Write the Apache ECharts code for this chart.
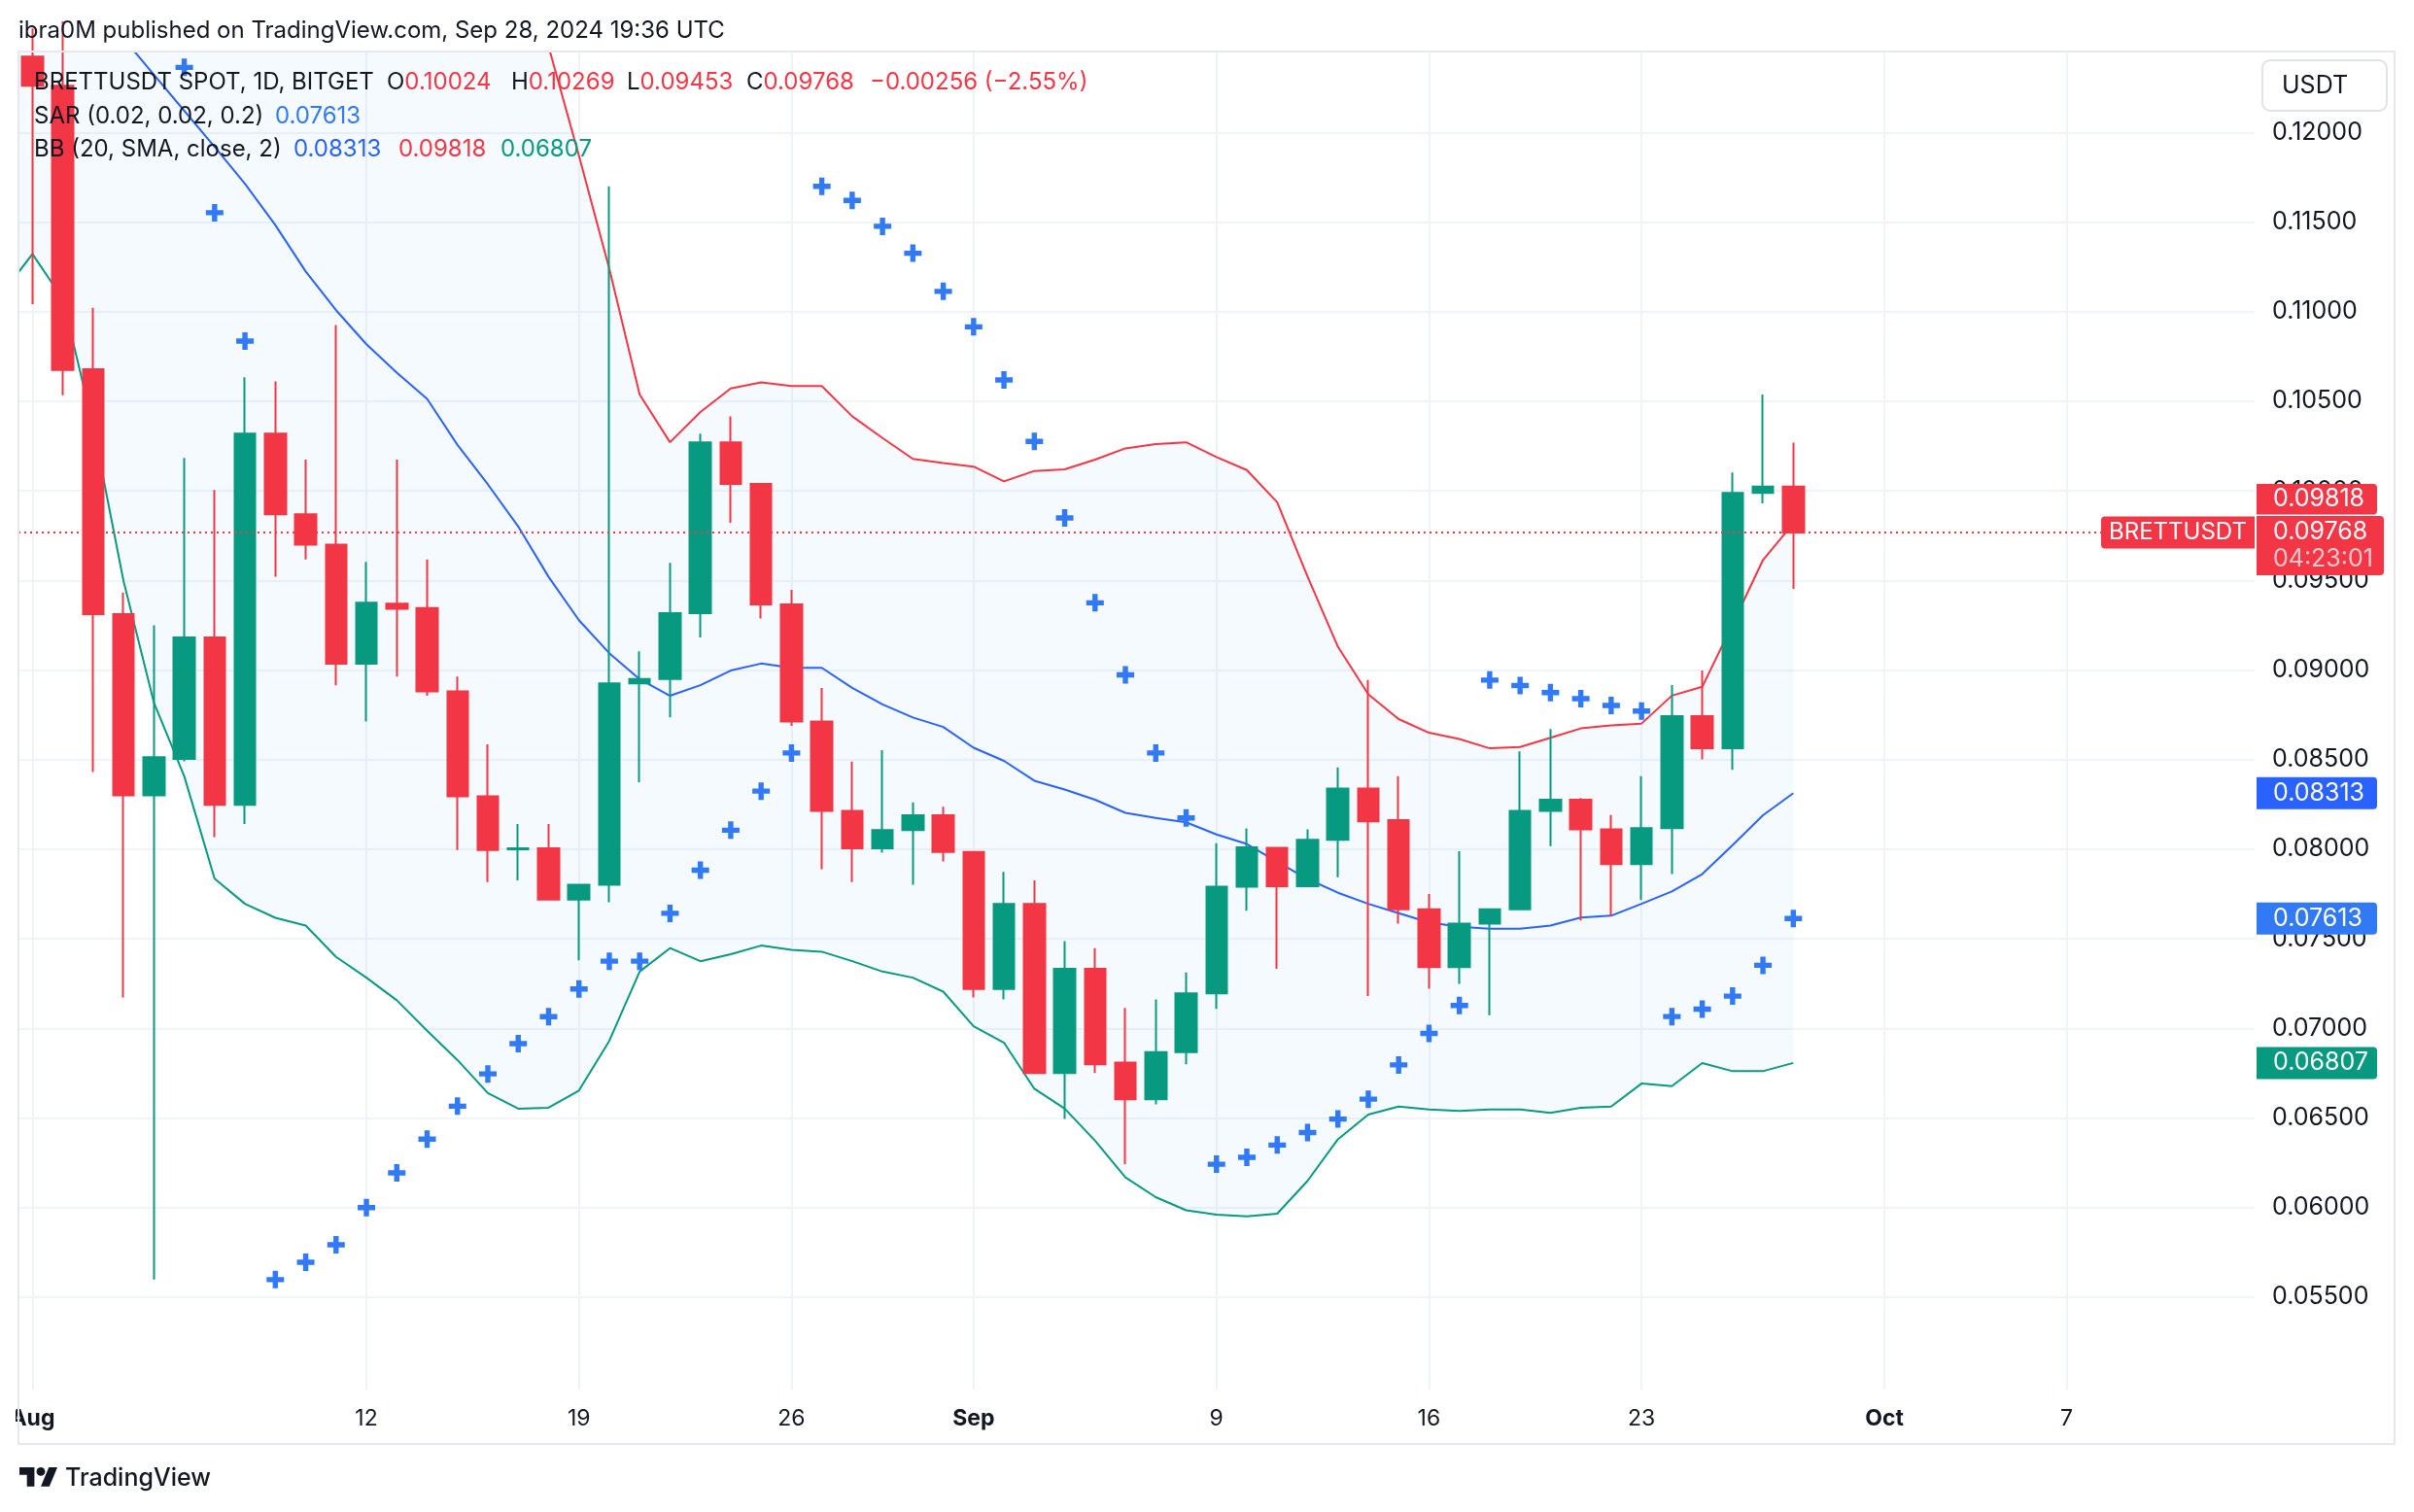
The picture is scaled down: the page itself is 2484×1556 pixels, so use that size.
<!DOCTYPE html>
<html>
<head>
<meta charset="utf-8">
<script src="https://cdn.jsdelivr.net/npm/echarts@6/dist/echarts.min.js"></script>
<style>
html,body{margin:0;padding:0;background:#ffffff;}
#c{width:2484px;height:1556px;}
</style>
</head>
<body>
<div id="c"></div>
<script>
// ---------------- DATA ----------------
const dates = [
 '2024-08-01','2024-08-02','2024-08-03','2024-08-04','2024-08-05','2024-08-06','2024-08-07','2024-08-08','2024-08-09','2024-08-10',
 '2024-08-11','2024-08-12','2024-08-13','2024-08-14','2024-08-15','2024-08-16','2024-08-17','2024-08-18','2024-08-19','2024-08-20',
 '2024-08-21','2024-08-22','2024-08-23','2024-08-24','2024-08-25','2024-08-26','2024-08-27','2024-08-28','2024-08-29','2024-08-30',
 '2024-08-31','2024-09-01','2024-09-02','2024-09-03','2024-09-04','2024-09-05','2024-09-06','2024-09-07','2024-09-08','2024-09-09',
 '2024-09-10','2024-09-11','2024-09-12','2024-09-13','2024-09-14','2024-09-15','2024-09-16','2024-09-17','2024-09-18','2024-09-19',
 '2024-09-20','2024-09-21','2024-09-22','2024-09-23','2024-09-24','2024-09-25','2024-09-26','2024-09-27','2024-09-28'
];
const opens = [0.12423,0.1226,0.10678,0.09312,0.083,0.08504,0.09182,0.08247,0.10319,0.09869,
 0.09699,0.09035,0.0937,0.09346,0.08881,0.08295,0.08,0.08005,0.07719,0.07801,
 0.08925,0.0895,0.09317,0.1027,0.10039,0.09366,0.08712,0.08213,0.08005,0.08106,
 0.08189,0.07985,0.0722,0.07695,0.06751,0.07332,0.06809,0.06605,0.06867,0.07196,
 0.07791,0.08007,0.07793,0.08052,0.08338,0.08162,0.07664,0.07342,0.07585,0.07664,
 0.08214,0.08276,0.0811,0.07917,0.08117,0.08743,0.08563,0.09988,0.10024];
const closes = [0.1226,0.10675,0.09312,0.083,0.08513,0.09182,0.08247,0.10319,0.09869,0.09699,
 0.09035,0.09375,0.09341,0.08881,0.08295,0.07995,0.08005,0.07719,0.07801,0.08925,
 0.0895,0.09317,0.1027,0.10039,0.09366,0.08712,0.08213,0.08005,0.08106,0.08189,
 0.07985,0.0722,0.07695,0.06751,0.07332,0.06799,0.06605,0.06867,0.07196,0.07791,
 0.0801,0.07793,0.08052,0.08338,0.08155,0.07664,0.07342,0.07585,0.07664,0.08214,
 0.08276,0.0811,0.07917,0.08117,0.08743,0.08563,0.09988,0.10024,0.09768];
const lows = [0.11042,0.10534,0.08431,0.07172,0.05598,0.0849,0.08067,0.08141,0.0952,0.09617,
 0.08915,0.08712,0.08963,0.08856,0.07995,0.07816,0.07826,0.07719,0.0738,0.07704,
 0.08373,0.08736,0.09182,0.09821,0.09288,0.08688,0.07888,0.07816,0.07981,0.07801,
 0.07932,0.07172,0.07162,0.0675,0.06494,0.06751,0.06243,0.06576,0.06799,0.07109,
 0.07656,0.07332,0.07793,0.07844,0.0718,0.07585,0.07221,0.07249,0.07073,0.07664,
 0.08017,0.07602,0.07626,0.07716,0.07861,0.08501,0.08443,0.0993,0.09453];
const highs = [0.1258,0.1262,0.11021,0.09433,0.09249,0.10183,0.10004,0.10634,0.1061,0.10174,
 0.10925,0.09603,0.10174,0.09617,0.08963,0.08585,0.08141,0.08141,0.07801,0.11699,
 0.09104,0.09598,0.10319,0.10416,0.10039,0.09447,0.089,0.08489,0.08552,0.08261,
 0.08237,0.07985,0.07874,0.07826,0.07487,0.07448,0.07114,0.07162,0.07312,0.08034,
 0.08116,0.08007,0.0811,0.08456,0.08944,0.08408,0.0775,0.07989,0.07664,0.08546,
 0.0867,0.08285,0.0819,0.08408,0.08916,0.08997,0.10102,0.10538,0.10269];

// Parabolic SAR (null = above visible range)
const sar = [null,null,null,null,null,0.12363,0.11552,0.10836,0.05598,0.05695,
 0.05792,0.06,0.06194,0.06382,0.06566,0.06746,0.06915,0.07065,0.0722,0.07375,
 0.07375,0.07642,0.07883,0.08106,0.08324,0.08537,0.11699,0.11621,0.11476,0.11326,
 0.11113,0.10915,0.10619,0.10276,0.09849,0.09375,0.08973,0.08537,0.08174,0.06242,
 0.0628,0.06349,0.06419,0.06494,0.06605,0.06796,0.06972,0.07128,0.08944,0.08913,
 0.08874,0.0884,0.08802,0.08771,0.07066,0.07107,0.0718,0.07352,0.07613];

// Bollinger Bands (first value = Jul 31, left of the visible range)
const bbDates = ['2024-07-31'].concat(dates);
const bbMiddle = [0.1333,0.1313,0.12929,0.12726,0.12525,0.12322,0.12121,0.1192,0.11714,0.11483,
 0.11224,0.11008,0.10818,0.1066,0.10513,0.10256,0.10036,0.09801,0.0952,0.09278,
 0.09094,0.08949,0.08856,0.08915,0.08997,0.09036,0.09012,0.09012,0.089,0.08808,
 0.08735,0.08682,0.08566,0.08493,0.08382,0.08333,0.08276,0.08203,0.08174,0.0815,
 0.08082,0.08029,0.0793,0.07834,0.07757,0.07695,0.07643,0.07591,0.07567,0.07556,
 0.07556,0.07574,0.07619,0.07629,0.07695,0.07764,0.07861,0.08023,0.08189,0.08313];
const bbUpper = [0.1556,0.1494,0.1479,0.1509,0.1555,0.1583,0.1584,0.16,0.1573,0.1535,
 0.1487,0.1462,0.1435,0.1416,0.1404,0.1369,0.1343,0.1305,0.1248,0.1187,
 0.1124,0.10537,0.10271,0.1044,0.10571,0.10605,0.10585,0.10585,0.10416,0.10295,
 0.10178,0.10155,0.10135,0.10053,0.10111,0.1012,0.10174,0.10237,0.10261,0.10271,
 0.10188,0.10116,0.09936,0.09521,0.0913,0.08864,0.08726,0.0865,0.08615,0.08563,
 0.0857,0.08622,0.08674,0.08691,0.08701,0.08857,0.08906,0.09255,0.09614,0.09818];
const bbLower = [0.111,0.11322,0.1107,0.1036,0.09496,0.08818,0.08407,0.07835,0.07695,0.07617,
 0.07574,0.07399,0.07283,0.07157,0.06987,0.06823,0.06639,0.06552,0.06557,0.06653,
 0.0693,0.07317,0.07448,0.07375,0.07414,0.07462,0.07438,0.07428,0.07375,0.07317,
 0.07283,0.07205,0.07012,0.0692,0.06663,0.06552,0.06373,0.06169,0.06058,0.05985,
 0.05961,0.05951,0.05966,0.06149,0.06381,0.06519,0.06564,0.06547,0.0654,0.06547,
 0.06547,0.06529,0.06557,0.06564,0.06692,0.06678,0.06806,0.06761,0.06761,0.06807];

// Axis ticks
const tickDates = ['2024-08-01','2024-08-12','2024-08-19','2024-08-26','2024-09-01','2024-09-09','2024-09-16','2024-09-23','2024-10-01','2024-10-07'];
const tickLabels = ['Aug','12','19','26','Sep','9','16','23','Oct','7'];
const monthTicks = ['Aug','Sep','Oct'];
const priceTicks = [0.055,0.06,0.065,0.07,0.075,0.08,0.085,0.09,0.095,0.1,0.105,0.11,0.115,0.12];

// Last values shown on the right axis / legend
const lastClose = 0.09768;
const lastBB = {middle:0.08313, upper:0.09818, lower:0.06807};
const lastSar = 0.07613;

// ---------------- CHART ----------------
const FONT = 'Inter, "Noto Sans", Roboto, sans-serif';
const DARK = '#131722';
const UP = '#089981', DOWN = '#f23645';
const BLUE = '#2962ff', SARBLUE = '#3179f5';
const DAY = 86400000;
const ts = s => Date.parse(s + 'T00:00:00Z');
const T0 = ts(dates[0]);
const xMin = T0 - 0.461 * DAY, xMax = T0 + 73.195 * DAY;
const yMin = 0.049843, yMax = 0.124463;
const tickTs = tickDates.map(ts);
const bbX = bbDates.map(ts);

const candleData = dates.map((d, i) => [ts(d), opens[i], closes[i], lows[i], highs[i]]);
const pair = arr => arr.map((v, i) => [bbX[i], v]);
const sarData = [];
dates.forEach((d, i) => { if (sar[i] != null) sarData.push([ts(d), sar[i]]); });

const chart = echarts.init(document.getElementById('c'), null, {renderer: 'canvas', width: 2484, height: 1556});

const option = {
  animation: false,
  backgroundColor: '#ffffff',
  grid: {left: 19, right: 164, top: 54, bottom: 126, outerBoundsMode: 'none', containLabel: false},
  xAxis: {
    type: 'value', min: xMin, max: xMax,
    axisLine: {show: false},
    axisTick: {show: false, customValues: tickTs},
    splitLine: {show: true, lineStyle: {color: '#f0f3fa', width: 2}},
    axisLabel: {
      customValues: tickTs,
      color: DARK, fontSize: 23, fontFamily: FONT, margin: 19,
      formatter: v => {
        const i = tickTs.findIndex(tt => Math.abs(tt - v) < 60000);
        if (i < 0) return '';
        const l = tickLabels[i];
        return monthTicks.indexOf(l) >= 0 ? '{b|' + l + '}' : l;
      },
      rich: {b: {fontWeight: 'bold', fontSize: 23, fontFamily: FONT, color: DARK}}
    }
  },
  yAxis: {
    type: 'value', position: 'right', min: yMin, max: yMax, scale: true,
    axisLine: {show: false},
    axisTick: {show: false, customValues: priceTicks},
    splitLine: {show: true, lineStyle: {color: '#f0f3fa', width: 2}},
    axisLabel: {
      customValues: priceTicks,
      formatter: v => v.toFixed(5),
      color: DARK, fontSize: 25, fontFamily: FONT, margin: 18, align: 'left'
    }
  },
  series: [
    {
      name: 'BB fill', type: 'custom', z: 1, silent: true,
      data: [[bbX[30], bbLower[30]]],
      renderItem: (params, api) => {
        const pts = [];
        for (let i = 0; i < bbX.length; i++) pts.push(api.coord([bbX[i], bbUpper[i]]));
        for (let i = bbX.length - 1; i >= 0; i--) pts.push(api.coord([bbX[i], bbLower[i]]));
        const cs = params.coordSys;
        return {
          type: 'polygon', shape: {points: pts},
          style: {fill: 'rgba(33,150,243,0.05)'},
          clipPath: {type: 'rect', shape: {x: cs.x, y: cs.y, width: cs.width, height: cs.height}}
        };
      }
    },
    {name: 'BB upper', type: 'line', z: 2, data: pair(bbUpper), showSymbol: false, symbol: 'none', silent: true,
      lineStyle: {color: DOWN, width: 2}},
    {name: 'BB middle', type: 'line', z: 2, data: pair(bbMiddle), showSymbol: false, symbol: 'none', silent: true,
      lineStyle: {color: BLUE, width: 2}},
    {name: 'BB lower', type: 'line', z: 2, data: pair(bbLower), showSymbol: false, symbol: 'none', silent: true,
      lineStyle: {color: UP, width: 2}},
    {
      name: 'BRETTUSDT', type: 'candlestick', z: 3, silent: true,
      data: candleData, barWidth: 22, clip: true,
      itemStyle: {color: UP, color0: DOWN, borderColor: UP, borderColor0: DOWN, borderWidth: 2}
    },
    {
      name: 'SAR', type: 'scatter', z: 4, silent: true,
      data: sarData,
      symbol: 'path://M3.5,0h3v3.5h3.5v3h-3.5v3.5h-3v-3.5h-3.5v-3h3.5z',
      symbolSize: 18,
      itemStyle: {color: SARBLUE, opacity: 1},
      markLine: {
        silent: true, symbol: ['none', 'none'], z: 5, animation: false, precision: 6,
        label: {show: false},
        lineStyle: {color: DOWN, type: [2, 4], width: 2, opacity: 1},
        emphasis: {disabled: true},
        data: [{yAxis: lastClose}]
      }
    }
  ]
};
chart.setOption(option);

// ---------------- ANNOTATIONS ----------------
const yOf = v => chart.convertToPixel({yAxisIndex: 0}, v);
const txt = (x, y, text, fill, size, style) => ({
  type: 'text', x: x, y: y, z: 100, silent: true,
  style: Object.assign({text: text, fill: fill, fontSize: size || 24, fontFamily: FONT, verticalAlign: 'middle', align: 'left'}, style || {})
});
const rich = (x, y, text) => ({
  type: 'text', x: x, y: y, z: 100, silent: true,
  style: {
    text: text, fontSize: 24, fontFamily: FONT, verticalAlign: 'middle', align: 'left', fill: DARK,
    rich: {
      k: {fill: DARK, fontSize: 24, fontFamily: FONT},
      r: {fill: DOWN, fontSize: 24, fontFamily: FONT}
    }
  }
});
const box = (x, y, w, h, fill, r) => ({
  type: 'rect', z: 100, silent: true,
  shape: {x: x, y: y, width: w, height: h, r: r},
  style: {fill: fill}
});

const AX = 2322, TX = 2339, BOXFS = 25;
const yClose = yOf(lastClose);
const closeTop = yClose - 17;
const g = [];
// pane border
g.push({type: 'rect', z: 90, silent: true, shape: {x: 19, y: 53, width: 2445, height: 1433}, style: {fill: 'none', stroke: '#e6e8ee', lineWidth: 2}});
// clip for first date label
g.push({type: 'rect', z: 95, silent: true, shape: {x: 0, y: 1432, width: 16, height: 52}, style: {fill: '#ffffff'}});
// header
g.push(txt(19, 32, 'ibra0M published on TradingView.com, Sep 28, 2024 19:36 UTC', DARK, 24));
// USDT box
g.push({type: 'rect', z: 100, silent: true, shape: {x: 2328, y: 62, width: 128, height: 52, r: 8}, style: {fill: '#ffffff', stroke: '#e0e3eb', lineWidth: 2}});
g.push(txt(2348, 88, 'USDT', DARK, 25));
// legend lines
g.push(txt(35, 85, 'BRETTUSDT SPOT, 1D, BITGET', DARK, 24));
g.push(rich(398, 85, '{k|O}{r|0.10024}'));
g.push(rich(526, 85, '{k|H}{r|0.10269}'));
g.push(rich(645, 85, '{k|L}{r|0.09453}'));
g.push(rich(768, 85, '{k|C}{r|0.09768}'));
g.push(rich(895, 85, '{r|\u22120.00256 (\u22122.55%)}'));
g.push(txt(35, 119.5, 'SAR (0.02, 0.02, 0.2)', DARK, 24));
g.push(txt(283, 119.5, lastSar.toFixed(5), SARBLUE, 24));
g.push(txt(35, 154, 'BB (20, SMA, close, 2)', DARK, 24));
g.push(txt(302, 154, lastBB.middle.toFixed(5), BLUE, 24));
g.push(txt(410, 154, lastBB.upper.toFixed(5), DOWN, 24));
g.push(txt(515, 154, lastBB.lower.toFixed(5), UP, 24));

// right axis value boxes
const yMid = yOf(lastBB.middle), ySar = yOf(lastSar), yLow = yOf(lastBB.lower);
g.push(box(AX, yMid - 16.5, 124, 33, BLUE, [0, 4, 4, 0]));
g.push(txt(TX, yMid, lastBB.middle.toFixed(5), '#ffffff', BOXFS));
g.push(box(AX, ySar - 16.5, 124, 33, SARBLUE, [0, 4, 4, 0]));
g.push(txt(TX, ySar, lastSar.toFixed(5), '#ffffff', BOXFS));
g.push(box(AX, yLow - 16.5, 124, 33, UP, [0, 4, 4, 0]));
g.push(txt(TX, yLow, lastBB.lower.toFixed(5), '#ffffff', BOXFS));
// upper band box, pushed above the last-price box
g.push(box(AX, closeTop - 33, 124, 31.5, DOWN, [0, 4, 4, 0]));
g.push(txt(TX, closeTop - 17, lastBB.upper.toFixed(5), '#ffffff', BOXFS));
// last price box with countdown
g.push(box(AX, closeTop, 131, 61, DOWN, [0, 4, 4, 0]));
g.push(txt(TX, yClose, lastClose.toFixed(5), '#ffffff', BOXFS));
g.push(txt(TX, yClose + 28, '04:23:01', 'rgba(255,255,255,0.72)', BOXFS));
// symbol label
g.push(box(2162, yClose - 16.5, 158, 33, DOWN, [4, 0, 0, 4]));
g.push(txt(2241, yClose, 'BRETTUSDT', '#ffffff', 24, {align: 'center'}));

// TradingView logo (36x28 unit artwork, placed at bottom-left)
const LS = 1.1, LX = 20, LY = 1510 - 4 * LS;
const lp = pts => pts.map(p => [LX + p[0] * LS, LY + p[1] * LS]);
g.push({type: 'polygon', z: 100, silent: true, shape: {points: lp([[0,4],[14,4],[14,22],[7,22],[7,11],[0,11]])}, style: {fill: DARK}});
g.push({type: 'polygon', z: 100, silent: true, shape: {points: lp([[20,22],[27.5,4],[35.5,4],[28,22]])}, style: {fill: DARK}});
g.push({type: 'circle', z: 100, silent: true, shape: {cx: LX + 20 * LS, cy: LY + 8 * LS, r: 4 * LS}, style: {fill: DARK}});
g.push(txt(67, 1521, 'TradingView', DARK, 25, {fontWeight: 500}));

chart.setOption({graphic: g});
</script>
</body>
</html>
